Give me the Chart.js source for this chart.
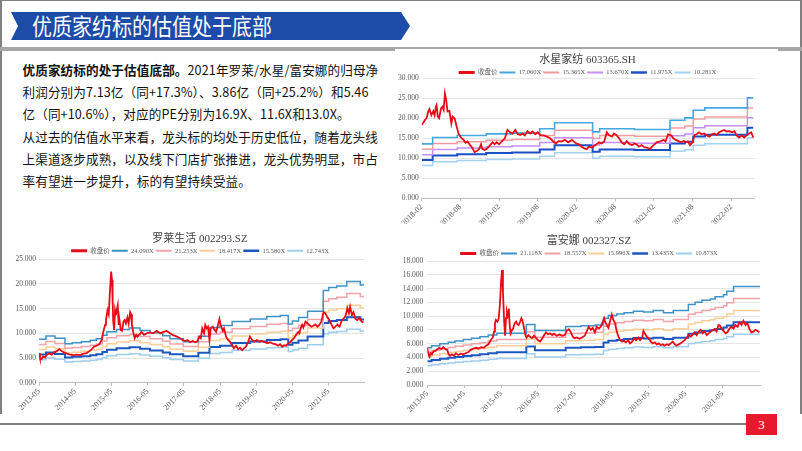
<!DOCTYPE html>
<html><head><meta charset="utf-8">
<script src="https://cdn.jsdelivr.net/npm/chart.js@4/dist/chart.umd.min.js"></script>
<style>
html,body{margin:0;padding:0;background:#fff;}
#page{position:relative;width:802px;height:451px;overflow:hidden;background:#fff;font-family:'Noto Sans CJK SC',sans-serif;}
.abs{position:absolute;}
#frame{left:0;top:0;width:802px;height:414px;box-sizing:border-box;border-left:2px solid #808080;border-top:1px solid #808080;border-right:2px solid #808080;}
#bottomline{left:0;top:423px;width:746px;height:1.5px;background:#808080;}
#grayline{left:0;top:47px;width:802px;height:3.5px;background:#a6a6a6;}
#c1bg{left:395px;top:48.5px;width:383px;height:176px;background:#fff;}
#titlebar{left:11px;top:12px;width:399px;height:28px;background:#1c4ca8;clip-path:polygon(0 0,390px 0,399px 14px,390px 28px,0 28px,7px 14px);}
#titletext{left:32px;top:12px;height:28px;line-height:28px;color:#fff;font-size:20px;transform:scaleY(1.12);transform-origin:left center;white-space:nowrap;}
#body{left:22.5px;top:58.8px;font-size:12.6px;line-height:22.3px;color:#111;white-space:nowrap;letter-spacing:0.1px;}
#pn{left:746px;top:414px;width:31px;height:21px;background:#e8192c;color:#fff;font-family:'Liberation Serif',serif;font-size:13px;line-height:21px;text-align:center;}
canvas{position:absolute;}
</style></head>
<body>
<div id="page">
  <div id="frame" class="abs"></div>
  <div id="bottomline" class="abs"></div>
  <div id="grayline" class="abs"></div>
  <div id="c1bg" class="abs"></div>
  <div id="titlebar" class="abs"></div>
  <div id="titletext" class="abs">优质家纺标的估值处于底部</div>
  <div id="body" class="abs">
    <div><b>优质家纺标的处于估值底部。</b>2021年罗莱/水星/富安娜的归母净</div>
    <div>利润分别为7.13亿（同+17.3%）、3.86亿（同+25.2%）和5.46</div>
    <div>亿（同+10.6%），对应的PE分别为16.9X、11.6X和13.0X。</div>
    <div>从过去的估值水平来看，龙头标的均处于历史低位，随着龙头线</div>
    <div>上渠道逐步成熟，以及线下门店扩张推进，龙头优势明显，市占</div>
    <div>率有望进一步提升，标的有望持续受益。</div>
  </div>
  <canvas id="c1" width="385" height="175" style="left:395px;top:49px;"></canvas>
  <canvas id="c2" width="390" height="195" style="left:5px;top:228px;"></canvas>
  <canvas id="c3" width="378" height="191" style="left:400px;top:231px;"></canvas>
  <div id="pn" class="abs">3</div>
</div>
<script>
// ===== 水星家纺 603365.SH (x = months since 2018-02) =====
const sxTitle = '水星家纺 603365.SH';
const sxTickMonths = [0,6,12,18,24,30,36,42,48];
const sxTickLabels = ['2018-02','2018-08','2019-02','2019-08','2020-02','2020-08','2021-02','2021-08','2022-02'];
const sxCloseMonths = [0,0.4,0.8,1.0,1.2,1.5,1.8,2.0,2.2,2.3,2.5,2.7,3.0,3.2,3.4,3.6,3.8,4.0,4.3,4.6,4.8,5.1,5.3,5.7,6.0,6.2,6.5,6.8,7.1,7.5,7.9,8.2,8.5,8.9,9.2,9.4,9.8,10.2,10.6,11.0,11.3,11.6,12.0,12.4,12.9,13.3,13.7,14.1,14.5,14.9,15.3,15.6,16.0,16.4,16.8,17.2,17.6,18.0,18.4,18.9,19.4,19.9,20.4,20.8,21.2,21.7,22.2,22.7,23.3,23.7,24.0,24.4,24.8,25.2,25.6,25.9,26.4,26.8,27.1,27.5,27.9,28.3,28.7,29.0,29.5,29.8,30.2,30.6,31.0,31.4,31.8,32.1,32.6,33.0,33.3,33.7,34.1,34.5,34.9,35.4,35.7,36.1,36.4,37.0,37.5,37.8,38.2,38.7,39.0,39.4,39.8,40.2,40.6,40.9,41.3,41.6,42.0,42.3,42.6,43.0,43.4,43.8,44.2,44.6,45.0,45.4,45.7,46.1,46.5,46.9,47.3,47.7,48.1,48.5,48.8,49.2,49.6,50.0,50.4,50.8,51.1,51.4];
const sxClose = [18.3,19.3,20.2,21.7,22.3,20.8,21.8,20.8,22.9,23.3,20.4,20.0,22.5,22.9,22.1,26.2,24.6,21.7,21.8,18.7,20.4,20.0,18.7,16.2,15.4,15.0,14.6,13.9,14.2,13.3,12.5,11.5,11.8,12.3,13.5,12.3,12.1,12.5,13.3,14.0,13.5,14.0,13.5,14.2,15.0,17.1,16.5,16.2,17.1,16.0,15.8,16.2,15.7,16.8,16.2,16.7,16.0,16.5,15.8,15.7,15.4,15.0,14.2,13.7,14.3,14.2,14.6,14.0,14.6,14.0,13.7,13.5,12.9,12.5,12.3,12.9,12.7,13.2,13.5,14.0,13.7,14.2,16.5,15.8,15.4,16.2,15.8,15.0,14.0,13.5,14.3,13.7,13.3,13.7,13.5,12.9,13.3,12.8,12.7,12.3,12.9,13.5,14.0,14.2,14.6,14.2,16.0,15.7,15.0,14.6,14.3,14.0,14.3,14.0,14.2,13.3,14.0,15.8,16.0,16.5,16.0,16.2,15.7,15.4,16.0,16.2,15.8,16.5,16.8,17.1,16.7,16.8,16.5,16.8,15.8,15.2,15.7,15.2,15.8,16.2,16.5,15.2];
const sxBandMonths = [0,1.7,5.5,10,14,18.3,20.6,26.5,27.6,33,38.5,40.8,42.1,43.9,50.5,51.4];
const sxBandLabels = ['17.060X','15.365X','13.670X','11.975X','10.281X'];
const sxBand1 = [13.6,15.2,15.7,16.1,16.3,17.4,18.9,16.6,17.4,17.2,19.5,20.1,22.0,22.6,25.1,25.1];
const sxBand2 = [12.25,13.69,14.14,14.5,14.68,15.67,17.02,14.95,15.67,15.49,17.56,18.1,19.81,20.35,22.6,22.6];
const sxBand3 = [10.9,12.18,12.58,12.9,13.06,13.94,15.14,13.3,13.94,13.78,15.63,16.1,17.63,18.11,20.11,20.11];
const sxBand4 = [9.55,10.67,11.02,11.3,11.44,12.21,13.27,11.65,12.21,12.07,13.69,14.11,15.44,15.86,17.62,17.62];
const sxBand5 = [8.2,9.16,9.46,9.7,9.82,10.49,11.39,10.0,10.49,10.36,11.75,12.11,13.26,13.62,15.13,15.13];

// ===== 罗莱生活 002293.SZ (x = months since 2013-05) =====
const llTitle = '罗莱生活 002293.SZ';
const llTickMonths = [0,12,24,36,48,60,72,84,96];
const llTickLabels = ['2013-05','2014-05','2015-05','2016-05','2017-05','2018-05','2019-05','2020-05','2021-05'];
const llCloseMonths = [0,0.3,0.9,1.4,2.0,2.5,3.4,4.2,5.0,5.9,6.7,7.5,8.3,9.2,10.3,11.4,12.5,13.6,14.7,15.8,16.7,17.5,18.2,19.1,20.0,20.8,21.3,21.9,22.2,22.7,23.1,23.5,23.9,24.2,24.4,24.6,24.9,25.2,25.5,25.7,26.1,26.4,26.6,27.1,27.5,28.0,28.4,28.8,29.3,29.7,30.2,30.5,30.8,31.3,31.7,32.2,32.6,33.3,34.0,34.8,35.7,36.8,37.9,39.0,40.1,41.2,42.3,43.4,44.3,45.1,45.9,46.7,47.6,48.4,49.2,50.1,50.9,51.7,52.5,53.1,53.6,54.1,54.7,55.1,55.6,56.0,56.5,56.9,57.6,58.0,58.7,59.3,59.8,60.2,60.9,61.3,62.0,62.7,63.3,64.0,64.6,65.3,66.0,66.6,67.3,68.0,68.6,69.3,69.9,70.6,71.3,72.2,73.0,73.9,74.8,75.7,76.6,77.5,78.3,79.2,79.9,80.6,81.2,81.9,82.5,83.2,83.9,84.5,85.2,85.9,86.3,86.7,87.2,87.6,88.3,89.0,89.6,90.3,90.9,91.6,92.3,92.9,93.6,94.3,94.9,95.6,96.2,96.9,97.6,98.2,98.9,99.6,100.2,100.9,101.5,102.2,102.7,103.1,103.7,104.2,104.9,105.5,106.2,106.9,107.5];
const llClose = [5.95,5.1,4.8,5.3,5.1,5.6,5.95,5.7,6.15,6.4,6.8,6.4,6.15,5.9,5.7,5.6,5.7,5.6,5.9,6.0,6.4,6.8,7.3,7.5,7.8,8.65,10.3,11.7,12.7,14.7,13.85,18.4,22.5,20.8,16.4,12.4,10.7,14.7,13.7,14.5,15.7,11.7,13.0,10.7,10.5,12.4,12.7,12.0,13.2,12.0,14.3,13.85,11.7,10.0,9.0,9.7,9.3,9.8,10.3,9.7,10.0,10.2,10.0,10.5,10.0,10.3,10.5,10.0,9.7,9.5,9.3,9.0,8.65,8.45,8.65,8.2,8.45,8.2,8.45,9.3,9.0,11.0,10.0,11.7,11.0,11.35,8.65,11.0,11.35,10.9,10.3,11.7,12.9,11.7,10.5,11.0,9.3,8.65,8.3,7.6,7.0,7.5,6.8,7.1,6.6,7.0,7.3,8.3,9.3,8.65,8.3,8.65,8.3,8.45,8.2,8.0,8.2,7.9,7.8,7.5,7.8,7.3,7.6,7.5,7.9,8.2,8.65,9.0,9.7,10.3,10.0,11.0,11.7,11.15,12.4,12.0,11.7,11.35,11.55,11.8,11.35,11.7,12.4,14.3,14.05,13.2,12.7,11.8,11.0,11.35,11.8,11.35,12.4,13.0,13.4,15.1,14.05,15.4,13.7,14.3,12.9,12.7,13.2,12.4,12.2];
const llBandMonths = [0,2.3,5.3,8.6,11,14,17,19,21,22.5,25.7,30,33.5,36.8,41,43.4,47.8,52.8,56.5,60,64,70,75.5,80,82.6,84,86,89,94.2,96,98.7,102,106.5,107.7];
const llBandLabels = ['24.090X','21.253X','18.417X','15.580X','12.743X'];
const llBand1 = [8.8,9.45,9.0,7.9,8.1,8.3,8.6,8.9,9.6,10.3,10.8,11.1,10.6,10.1,9.5,8.9,8.3,9.4,11.2,11.6,12.4,12.9,13.4,13.6,11.9,12.5,13.2,14.5,18.7,19.3,19.6,20.5,19.8,19.8];
const llBand2 = [7.76,8.34,7.94,6.97,7.15,7.32,7.59,7.85,8.47,9.09,9.53,9.79,9.35,8.91,8.38,7.85,7.32,8.29,9.88,10.23,10.94,11.38,11.82,12.0,10.5,11.03,11.65,12.79,16.5,17.03,17.29,18.09,17.47,17.47];
const llBand3 = [6.73,7.22,6.88,6.04,6.19,6.35,6.57,6.8,7.34,7.87,8.26,8.49,8.1,7.72,7.26,6.8,6.35,7.19,8.56,8.87,9.48,9.86,10.24,10.4,9.1,9.56,10.09,11.09,14.3,14.75,14.98,15.67,15.14,15.14];
const llBand4 = [5.69,6.11,5.82,5.11,5.24,5.37,5.56,5.76,6.21,6.66,6.98,7.18,6.86,6.53,6.14,5.76,5.37,6.08,7.24,7.5,8.02,8.34,8.67,8.8,7.7,8.08,8.54,9.38,12.09,12.48,12.68,13.26,12.8,12.8];
const llBand5 = [4.66,5.0,4.76,4.18,4.28,4.39,4.55,4.71,5.08,5.45,5.71,5.87,5.61,5.34,5.03,4.71,4.39,4.97,5.92,6.14,6.56,6.82,7.09,7.19,6.3,6.61,6.98,7.67,9.89,10.21,10.37,10.84,10.47,10.47];

// ===== 富安娜 002327.SZ (x = months since 2013-05) =====
const faTitle = '富安娜 002327.SZ';
const faTickMonths = [0,12,24,36,48,60,72,84,96];
const faTickLabels = ['2013-05','2014-05','2015-05','2016-05','2017-05','2018-05','2019-05','2020-05','2021-05'];
const faCloseMonths = [0,0.3,0.7,1.1,1.5,2.0,2.6,3.3,3.9,4.6,5.2,5.9,6.5,6.9,7.4,8.0,8.7,9.3,10.1,10.9,11.7,12.6,13.3,14.1,15.0,15.8,16.7,17.6,18.4,19.1,19.9,20.6,21.3,21.7,22.0,22.3,22.8,23.2,23.6,24.0,24.3,24.6,25.0,25.3,25.6,25.9,26.3,26.5,26.8,27.1,27.4,27.9,28.4,28.9,29.3,29.7,30.2,30.6,31.0,31.5,31.9,32.3,32.9,33.4,34.1,34.7,35.4,36.0,36.7,37.3,38.0,38.6,39.3,39.9,40.6,41.2,42.1,43.0,43.8,44.7,45.3,46.0,46.6,47.3,47.9,48.6,49.5,50.3,51.2,51.8,52.5,53.2,53.8,54.5,55.1,55.8,56.4,57.1,57.5,57.9,58.4,58.9,59.4,60.0,60.5,61.1,61.6,62.2,62.7,63.3,64.0,64.6,65.3,65.9,66.6,67.3,67.9,68.6,69.2,69.9,70.3,70.7,71.4,72.0,72.7,73.3,74.0,74.6,75.3,75.9,76.6,77.2,77.9,78.5,79.2,79.8,80.5,81.1,81.8,82.4,83.1,83.7,84.4,85.0,85.7,86.3,87.0,87.6,88.3,88.9,89.6,90.2,90.9,91.5,92.2,92.8,93.5,94.1,94.7,95.2,95.8,96.3,97.0,97.6,98.3,98.9,99.6,100.2,100.9,101.5,102.2,102.8,103.5,104.1,104.8,105.4,106.1,106.7,107.4,108.0];
const faClose = [5.4,4.6,4.1,4.6,4.45,4.85,4.95,5.2,5.4,5.2,5.5,5.2,5.1,4.45,4.25,4.45,4.25,4.6,4.35,4.55,4.45,4.65,4.75,5.1,5.3,5.4,5.3,5.5,5.4,5.7,5.9,6.5,6.9,7.75,8.95,9.45,9.2,9.6,11.6,15.0,16.7,13.5,9.2,7.15,9.7,10.65,9.9,11.1,8.7,7.5,7.85,8.2,8.95,9.2,8.8,8.7,9.2,9.7,9.3,8.2,7.25,6.9,7.25,7.0,6.8,7.15,6.8,6.5,6.3,6.7,7.25,7.65,7.35,7.5,7.25,7.45,7.15,7.35,7.15,7.25,7.85,8.1,7.75,7.0,6.8,6.9,6.7,6.9,7.15,7.75,8.45,8.0,8.3,7.65,8.45,8.2,8.45,9.2,9.7,9.1,8.7,8.3,9.2,10.25,9.45,8.95,7.75,7.0,6.5,6.3,6.4,6.2,6.5,6.05,6.3,6.8,6.5,6.9,6.5,6.9,7.85,7.5,7.0,6.8,6.3,6.05,6.2,5.9,6.05,5.8,5.9,5.7,5.9,5.8,6.05,6.3,5.9,5.7,5.9,6.05,6.3,6.5,6.9,7.25,7.0,7.35,7.65,7.25,7.75,8.0,7.5,7.75,7.25,7.5,7.75,8.0,8.1,7.75,8.7,8.6,8.1,7.85,7.5,7.65,8.2,8.45,8.2,8.7,8.45,9.1,8.7,9.3,8.7,8.95,8.1,7.65,7.75,8.0,7.85,7.65];
const faBandMonths = [0,1.4,4.1,6.8,9,11.7,14.4,17.1,19.8,22.6,32.2,35,45,50,54.6,57.3,58.9,61.6,64,67,70.3,73.5,76.8,80,84.9,87.1,89.3,92,93.6,96.3,97.4,99.6,108.2];
const faBandLabels = ['21.118X','18.557X','15.996X','13.435X','10.873X'];
const faBand1 = [5.4,5.7,6.0,6.2,6.4,6.6,6.8,7.0,7.25,7.5,8.8,7.9,8.5,8.6,8.7,9.7,10.1,10.3,10.5,10.7,10.6,10.8,10.5,10.8,11.7,12.0,12.3,12.5,12.8,13.1,13.6,14.3,14.3];
const faBand2 = [4.75,5.01,5.27,5.45,5.62,5.8,5.98,6.15,6.37,6.59,7.73,6.94,7.47,7.56,7.64,8.52,8.87,9.05,9.23,9.4,9.31,9.49,9.23,9.49,10.28,10.54,10.81,10.98,11.25,11.51,11.95,12.57,12.57];
const faBand3 = [4.09,4.32,4.55,4.7,4.85,5.0,5.15,5.3,5.49,5.68,6.67,5.98,6.44,6.51,6.59,7.35,7.65,7.8,7.95,8.11,8.03,8.18,7.95,8.18,8.86,9.09,9.32,9.47,9.7,9.92,10.3,10.83,10.83];
const faBand4 = [3.44,3.63,3.82,3.94,4.07,4.2,4.33,4.45,4.61,4.77,5.6,5.03,5.41,5.47,5.53,6.17,6.43,6.55,6.68,6.81,6.74,6.87,6.68,6.87,7.44,7.63,7.83,7.95,8.14,8.33,8.65,9.1,9.1];
const faBand5 = [2.78,2.93,3.09,3.19,3.3,3.4,3.5,3.6,3.73,3.86,4.53,4.07,4.38,4.43,4.48,4.99,5.2,5.3,5.41,5.51,5.46,5.56,5.41,5.56,6.02,6.18,6.33,6.44,6.59,6.75,7.0,7.36,7.36];

const closeLabel = '收盘价';

// ===== chart builder =====
const SERIF = "'Liberation Serif','Noto Sans CJK SC',serif";
const zip = (xs, ys) => xs.map((x, i) => ({x: x, y: ys[i]}));

function build(id, o) {
  const datasets = [{
    label: closeLabel, data: zip(o.closeX, o.closeY), borderColor: '#e60c17',
    borderWidth: 1.8, legendWidth: 3
  }];
  o.bands.forEach((vals, i) => {
    datasets.push({
      label: o.bandLabels[i], data: zip(o.bandX, vals), stepped: true,
      borderColor: o.colors[i], borderWidth: o.widths[i], legendWidth: o.widths[i] + 0.5
    });
  });
  datasets.forEach(d => { d.pointRadius = 0; d.fill = false; d.tension = 0; d.pointStyle = 'line'; });

  return new Chart(document.getElementById(id), {
    type: 'line',
    data: {datasets: datasets},
    options: {
      responsive: false, animation: false, events: [],
      layout: {padding: 0},
      plugins: {
        title: {display: true, text: o.title, color: '#404040',
          font: {family: SERIF, size: 11, weight: 'normal'},
          padding: {top: o.titleTop, bottom: 0}},
        legend: {
          display: true, maxHeight: o.legendH,
          labels: {
            usePointStyle: true, pointStyleWidth: 16, boxHeight: 6, padding: 2,
            color: '#595959', font: {family: SERIF, size: 6.5},
            generateLabels: chart => chart.data.datasets.map((d, i) => ({
              text: d.label, fillStyle: d.borderColor, strokeStyle: d.borderColor,
              lineWidth: d.legendWidth, pointStyle: 'line', hidden: false,
              fontColor: '#595959', datasetIndex: i
            }))
          }
        },
        tooltip: {enabled: false}
      },
      scales: {
        x: {
          type: 'linear', position: 'bottom', min: 0, max: o.xMax,
          afterBuildTicks: s => { s.ticks = o.tickMonths.map(v => ({value: v})); },
          afterFit: s => { s.height = o.xH; },
          ticks: {
            autoSkip: false, minRotation: 45, maxRotation: 45, padding: 1,
            color: '#595959', font: {family: SERIF, size: 8},
            callback: (v, i) => o.tickLabels[i]
          },
          grid: {display: true, drawOnChartArea: false, drawTicks: true, tickLength: 3, color: '#bfbfbf'},
          border: {display: true, color: '#bfbfbf', width: 1}
        },
        y: {
          position: 'left', min: 0, max: o.yMax,
          afterFit: s => { s.width = o.yW; },
          ticks: {stepSize: o.yStep, padding: o.yPad, color: '#595959',
            font: {family: SERIF, size: 7.5}, callback: v => v.toFixed(3)},
          grid: {color: '#dedede', lineWidth: 0.8, drawTicks: false},
          border: {display: false}
        },
        yR: {
          position: 'right', display: true, min: 0, max: o.yMax,
          afterFit: s => { s.width = o.rW; },
          ticks: {display: false}, grid: {display: false}, border: {display: false}
        }
      }
    }
  });
}

build('c1', {
  title: sxTitle, closeX: sxCloseMonths, closeY: sxClose, bandX: sxBandMonths,
  bands: [sxBand1, sxBand2, sxBand3, sxBand4, sxBand5], bandLabels: sxBandLabels,
  colors: ['#45a6e0', '#f19ca2', '#c58ef2', '#1a4fc6', '#a3d3f2'],
  widths: [1.6, 1.5, 1.5, 2, 1.5],
  tickMonths: sxTickMonths, tickLabels: sxTickLabels,
  xMax: 51.6, yMax: 30, yStep: 5, yW: 26.7, rW: 25.5, xH: 25.7,
  titleTop: 5, legendH: 11.1, yPad: 3
});
build('c2', {
  title: llTitle, closeX: llCloseMonths, closeY: llClose, bandX: llBandMonths,
  bands: [llBand1, llBand2, llBand3, llBand4, llBand5], bandLabels: llBandLabels,
  colors: ['#3f92c6', '#f2a3aa', '#fbcf97', '#1d58c0', '#9fcdec'],
  widths: [1.5, 1.5, 1.5, 2, 1.5],
  tickMonths: llTickMonths, tickLabels: llTickLabels,
  xMax: 107.7, yMax: 25, yStep: 5, yW: 34, rW: 31, xH: 40.3,
  titleTop: 4.4, legendH: 13.7, yPad: 3
});
build('c3', {
  title: faTitle, closeX: faCloseMonths, closeY: faClose, bandX: faBandMonths,
  bands: [faBand1, faBand2, faBand3, faBand4, faBand5], bandLabels: faBandLabels,
  colors: ['#3f92c6', '#f2a3aa', '#fbcf97', '#1d58c0', '#9fcdec'],
  widths: [1.5, 1.5, 1.5, 2, 1.5],
  tickMonths: faTickMonths, tickLabels: faTickLabels,
  xMax: 108.2, yMax: 18, yStep: 2, yW: 27.3, rW: 18, xH: 37,
  titleTop: 4, legendH: 12.8, yPad: 4
});
</script>
</body></html>
